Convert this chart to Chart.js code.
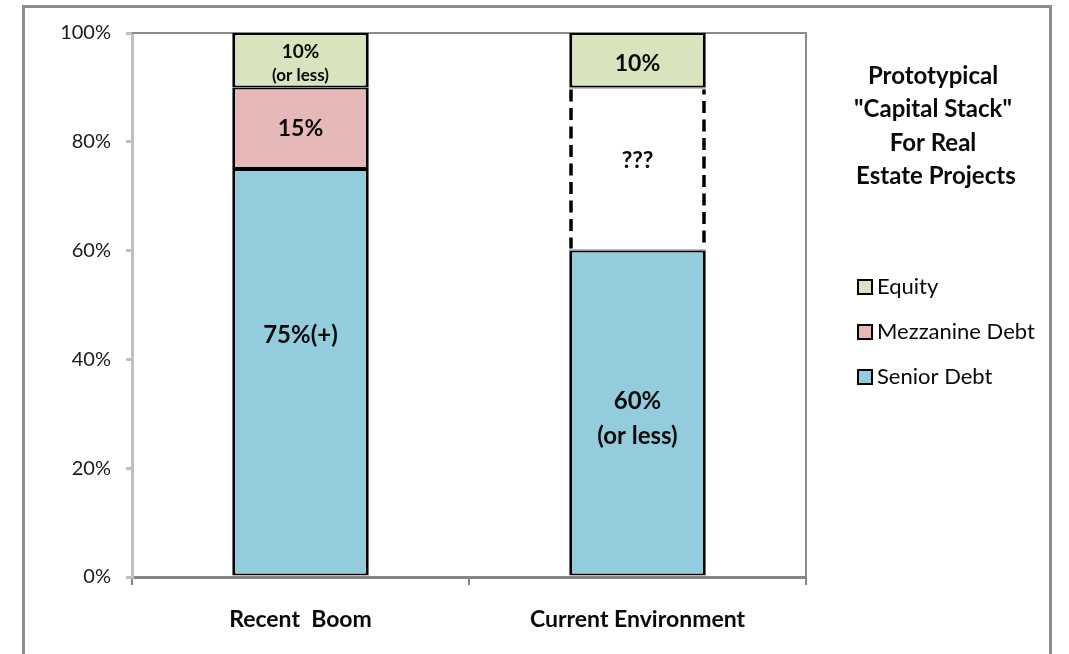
<!DOCTYPE html>
<html>
<head>
<meta charset="utf-8">
<title>Prototypical Capital Stack</title>
<script src="https://cdn.jsdelivr.net/npm/chart.js@4.4.1/dist/chart.umd.min.js"></script>
<style>
  html, body { margin: 0; padding: 0; background: #ffffff; }
  #wrap { width: 1069px; height: 654px; }
</style>
</head>
<body>
<div id="wrap"><canvas id="stack" width="1069" height="654"></canvas></div>
<script>
// ---- data ----
const categories = ['Recent  Boom', 'Current Environment'];
const seniorDebt = [75, 60];
const mezzanineDebt = [15, 0];
const undetermined = [0, 30];
const equity = [10, 10];
const yTickValues = [0, 20, 40, 60, 80, 100];

// text written inside each segment, one entry per category
const seniorLabels = [['75%(+)'], ['60%', '(or less)']];
const mezzanineLabels = [['15%'], []];
const undeterminedLabels = [[], ['???']];
const equityLabels = [['10%', '(or less)'], ['10%']];

const titleLines = ['Prototypical', '"Capital Stack"', 'For Real', ' Estate Projects'];

// ---- styling ----
const FONT = 'Lato, "Open Sans", "Noto Sans", sans-serif';
const TEXT = '#0a0a0a';
const COLORS = {
  equity: '#D7E4BD',
  mezzanine: '#E6B9B8',
  senior: '#93CDDD',
  undetermined: '#FFFFFF'
};
const segmentBorder = { top: 2, bottom: 2, left: 3, right: 3 };

// label font sizes per dataset/category line (default is 24)
const labelFontSizes = {
  equity: [[19, 17], [23]],
  mezzanine: [[23], []],
  undetermined: [[], [23]]
};
// distance between the lines of a two-line label
const labelLineGap = {
  equity: [24, 0],
  senior: [0, 35]
};
// value on the y axis at which a label block is centred (null = segment middle)
const labelAnchors = {
  senior: [44.5, 29],
  equity: [94.3, 94.3],
  undetermined: [null, 76.5]
};

const datasets = [
  { key: 'senior', label: 'Senior Debt', data: seniorDebt, backgroundColor: COLORS.senior,
    borderColor: '#000', borderWidth: segmentBorder, borderSkipped: false, segLabels: seniorLabels, inLegend: true },
  { key: 'mezzanine', label: 'Mezzanine Debt', data: mezzanineDebt, backgroundColor: COLORS.mezzanine,
    borderColor: '#000', borderWidth: segmentBorder, borderSkipped: false, segLabels: mezzanineLabels, inLegend: true },
  { key: 'undetermined', label: 'Undetermined', data: undetermined, backgroundColor: COLORS.undetermined,
    borderColor: '#000', borderWidth: { top: 1, bottom: 1, left: 0, right: 0 }, borderSkipped: false,
    segLabels: undeterminedLabels, inLegend: false, dashedSides: true },
  { key: 'equity', label: 'Equity', data: equity, backgroundColor: COLORS.equity,
    borderColor: '#000', borderWidth: segmentBorder, borderSkipped: false, segLabels: equityLabels, inLegend: true }
];

// white page with a grey frame around the chart
const framePlugin = {
  id: 'frame',
  beforeDraw(chart) {
    const ctx = chart.ctx;
    ctx.save();
    ctx.fillStyle = '#ffffff';
    ctx.fillRect(0, 0, chart.width, chart.height);
    ctx.strokeStyle = '#8c8c8c';
    ctx.lineWidth = 3;
    ctx.strokeRect(23.5, 6.5, 1027, 700);
    ctx.restore();
  },
  beforeDatasetsDraw(chart) {
    // top and right edges of the plot area
    const { ctx, chartArea: a } = chart;
    ctx.save();
    ctx.strokeStyle = '#8c8c8c';
    ctx.lineWidth = 2;
    ctx.beginPath();
    ctx.moveTo(a.left, a.top);
    ctx.lineTo(a.right, a.top);
    ctx.lineTo(a.right, a.bottom);
    ctx.stroke();
    ctx.restore();
  }
};

// dashed left/right sides for the open segment
const dashedPlugin = {
  id: 'dashedSides',
  afterDatasetsDraw(chart) {
    const ctx = chart.ctx;
    chart.data.datasets.forEach((ds, i) => {
      if (!ds.dashedSides) return;
      const meta = chart.getDatasetMeta(i);
      meta.data.forEach((el, j) => {
        if (!ds.data[j]) return;
        const { x, y, base, width } = el.getProps(['x', 'y', 'base', 'width'], true);
        const top = Math.min(y, base), bottom = Math.max(y, base);
        ctx.save();
        ctx.strokeStyle = '#000';
        ctx.lineWidth = 3.5;
        ctx.setLineDash([12, 6.5]);
        [x - width / 2 + 1.75, x + width / 2 - 1.75].forEach((sx, k) => {
          ctx.lineDashOffset = k === 0 ? 0 : 7;
          ctx.beginPath();
          ctx.moveTo(sx, top + 2);
          ctx.lineTo(sx, bottom - 2);
          ctx.stroke();
        });
        ctx.restore();
      });
    });
  }
};

// text inside the bar segments
const segmentLabelPlugin = {
  id: 'segmentLabels',
  afterDatasetsDraw(chart) {
    const ctx = chart.ctx;
    const yScale = chart.scales.y;
    chart.data.datasets.forEach((ds, i) => {
      const meta = chart.getDatasetMeta(i);
      meta.data.forEach((el, j) => {
        const lines = ds.segLabels[j];
        if (!lines || !lines.length) return;
        const { x, y, base } = el.getProps(['x', 'y', 'base'], true);
        const anchors = labelAnchors[ds.key];
        const cy = anchors && anchors[j] != null ? yScale.getPixelForValue(anchors[j]) : (y + base) / 2;
        const sizes = (labelFontSizes[ds.key] && labelFontSizes[ds.key][j]) || lines.map(() => 24);
        const gap = (labelLineGap[ds.key] && labelLineGap[ds.key][j]) || 0;
        const first = cy - gap * (lines.length - 1) / 2;
        ctx.save();
        ctx.fillStyle = TEXT;
        ctx.textAlign = 'center';
        ctx.textBaseline = 'middle';
        lines.forEach((line, k) => {
          ctx.font = 'bold ' + sizes[k] + 'px ' + FONT;
          ctx.fillText(line, x, first + k * gap);
        });
        ctx.restore();
      });
    });
  }
};

// chart title and legend on the right
const sidePanelPlugin = {
  id: 'sidePanel',
  afterDraw(chart) {
    const ctx = chart.ctx;
    ctx.save();
    ctx.fillStyle = TEXT;
    ctx.textAlign = 'center';
    ctx.textBaseline = 'middle';
    ctx.font = 'bold 24px ' + FONT;
    titleLines.forEach((t, k) => ctx.fillText(t, 933, 76 + k * 33.5));

    const items = chart.data.datasets.filter(d => d.inLegend).slice().reverse();
    ctx.textAlign = 'left';
    ctx.font = '22px ' + FONT;
    items.forEach((d, k) => {
      const cy = 287 + k * 45;
      ctx.fillStyle = d.backgroundColor;
      ctx.fillRect(858, cy - 7, 14, 14);
      ctx.strokeStyle = '#000';
      ctx.lineWidth = 2;
      ctx.strokeRect(858, cy - 7, 14, 14);
      ctx.fillStyle = TEXT;
      ctx.fillText(d.label, 877, cy);
    });
    ctx.restore();
  }
};

new Chart(document.getElementById('stack'), {
  type: 'bar',
  data: { labels: categories, datasets },
  options: {
    responsive: false,
    devicePixelRatio: 1,
    animation: false,
    layout: { padding: { top: 33, right: 263, left: 0, bottom: 0 } },
    datasets: { bar: { barPercentage: 0.405, categoryPercentage: 1.0 } },
    plugins: { legend: { display: false }, tooltip: { enabled: false } },
    scales: {
      x: {
        stacked: true,
        afterFit(s) { s.height = 77; },
        grid: { display: true, drawOnChartArea: false, drawTicks: true, tickLength: 8, color: '#868686', lineWidth: 2, offset: true },
        border: { display: true, color: '#868686', width: 3 },
        ticks: { color: TEXT, padding: 21, font: { family: FONT, size: 23, weight: 'bold' } }
      },
      y: {
        stacked: true,
        min: 0,
        max: 100,
        afterFit(s) { s.width = 132; },
        afterBuildTicks(s) { s.ticks = yTickValues.map(v => ({ value: v })); },
        grid: { display: true, drawOnChartArea: false, drawTicks: true, tickLength: 6, color: '#bfbfbf', lineWidth: 3 },
        border: { display: true, color: '#bfbfbf', width: 3 },
        ticks: { color: '#1a1a1a', padding: 15, font: { family: FONT, size: 20 }, callback: v => v + '%' }
      }
    }
  },
  plugins: [framePlugin, dashedPlugin, segmentLabelPlugin, sidePanelPlugin]
});
</script>
</body>
</html>
